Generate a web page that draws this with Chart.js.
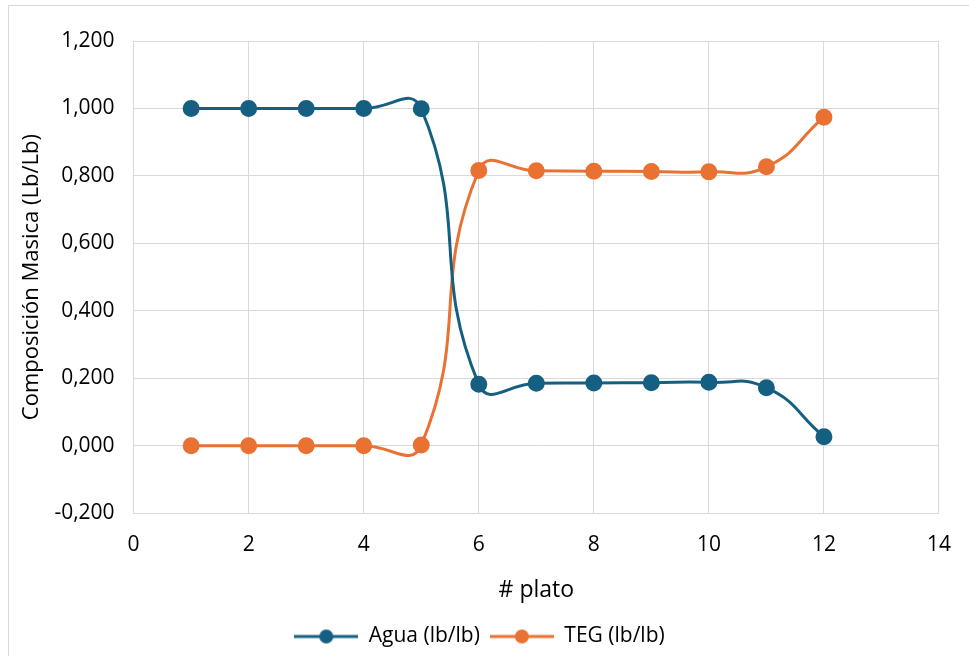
<!DOCTYPE html>
<html>
<head>
<meta charset="utf-8">
<script src="https://cdn.jsdelivr.net/npm/chart.js@4/dist/chart.umd.min.js"></script>
<style>
  html, body { margin: 0; padding: 0; background: #fff; }
  #wrap { position: absolute; left: 8px; top: 5px; width: 975px; height: 660px; border: 1px solid #d9d9d9; box-sizing: border-box; }
  #chart { position: absolute; left: 0; top: 0; }
</style>
</head>
<body>
<div id="wrap"><canvas id="chart" width="961" height="651"></canvas></div>
<script>
// platos y composiciones
const platos = [1, 2, 3, 4, 5, 6, 7, 8, 9, 10, 11, 12];
const agua = [1.000, 1.000, 1.000, 1.000, 0.999, 0.182, 0.185, 0.186, 0.187, 0.188, 0.172, 0.027];
const teg = [0.000, 0.000, 0.000, 0.000, 0.002, 0.816, 0.815, 0.814, 0.813, 0.812, 0.827, 0.974];
const yTicks = [-0.2, 0, 0.2, 0.4, 0.6, 0.8, 1.0, 1.2];

const colAgua = '#156082';
const colTeg = '#e97132';

function pts(ys) {
    return platos.map((x, i) => ({ x: x, y: ys[i] }));
}

// legend marker: line with a dot
function marker(color) {
    const c = document.createElement('canvas');
    c.width = 64; c.height = 18;
    const g = c.getContext('2d');
    g.strokeStyle = color; g.lineWidth = 3;
    g.beginPath(); g.moveTo(0, 9); g.lineTo(64, 9); g.stroke();
    g.fillStyle = color;
    g.beginPath(); g.arc(32, 9, 7, 0, Math.PI * 2); g.fill();
    return c;
}

const font = "'Open Sans', 'Liberation Sans', sans-serif";
const ctx = document.getElementById('chart').getContext('2d');
new Chart(ctx, {
    type: 'line',
    data: {
        datasets: [{
            label: 'Agua (lb/lb)',
            data: pts(agua),
            borderColor: colAgua,
            backgroundColor: colAgua,
            borderWidth: 3,
            pointRadius: 7,
            pointHoverRadius: 7,
            tension: 0.5
        }, {
            label: 'TEG (lb/lb)',
            data: pts(teg),
            borderColor: colTeg,
            backgroundColor: colTeg,
            borderWidth: 3,
            pointRadius: 7,
            pointHoverRadius: 7,
            tension: 0.5
        }]
    },
    options: {
        responsive: false,
        animation: false,
        layout: { padding: { left: 0, right: 20, top: 35, bottom: 0 } },
        plugins: {
            legend: {
                position: 'bottom',
                labels: {
                    font: { family: font, size: 21 },
                    color: '#000',
                    usePointStyle: true,
                    pointStyleWidth: 64,
                    boxHeight: 18,
                    padding: 10,
                    generateLabels: function (chart) {
                        return chart.data.datasets.map((d, i) => ({
                            text: d.label,
                            pointStyle: marker(d.borderColor),
                            fillStyle: d.borderColor,
                            strokeStyle: d.borderColor,
                            lineWidth: 0,
                            datasetIndex: i
                        }));
                    }
                }
            },
            tooltip: { enabled: false }
        },
        scales: {
            x: {
                type: 'linear',
                min: 0,
                max: 14,
                ticks: {
                    stepSize: 2,
                    font: { family: font, size: 21 },
                    color: '#000',
                    padding: 19
                },
                grid: { color: '#d9d9d9', drawTicks: false },
                border: { color: '#d9d9d9' },
                title: {
                    display: true,
                    text: '# plato',
                    font: { family: font, size: 23 },
                    color: '#000',
                    padding: { top: 0, bottom: 12 }
                }
            },
            y: {
                min: -0.2,
                max: 1.2,
                afterBuildTicks: function (axis) {
                    axis.ticks = yTicks.map(v => ({ value: v }));
                },
                ticks: {
                    font: { family: font, size: 21 },
                    color: '#000',
                    padding: 19,
                    callback: v => v.toFixed(3).replace('.', ',')
                },
                grid: { color: '#d9d9d9', drawTicks: false },
                border: { color: '#d9d9d9' },
                title: {
                    display: true,
                    text: 'Composición Masica (Lb/Lb)',
                    font: { family: font, size: 22 },
                    color: '#000',
                    padding: { top: 10, bottom: -10 }
                }
            }
        }
    }
});
</script>
</body>
</html>
